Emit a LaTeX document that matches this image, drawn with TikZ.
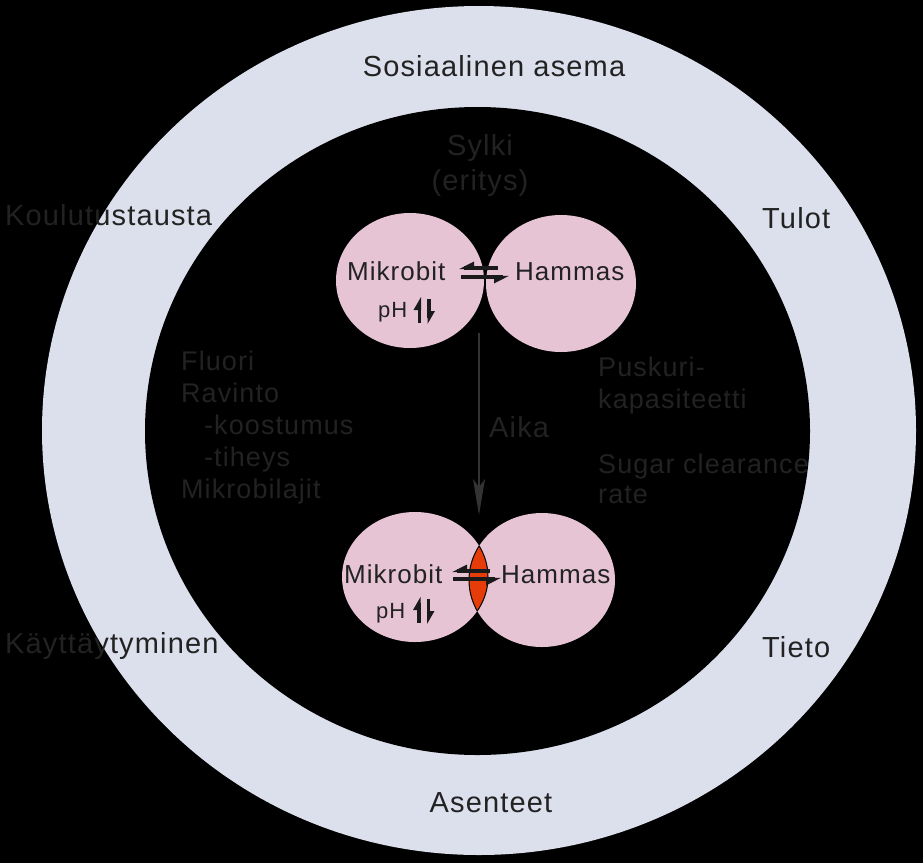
\documentclass[tikz,border=0pt]{standalone}
\usepackage{fontspec}
\setmainfont{Liberation Sans}[LetterSpace=4]
\usetikzlibrary{arrows.meta}
\definecolor{ringc}{HTML}{DCDFEC}
\definecolor{pinkc}{HTML}{E6C4D4}
\definecolor{lensc}{HTML}{E63C0A}
\definecolor{txtc}{HTML}{222222}
\definecolor{symc}{HTML}{1A1A1A}
\definecolor{arrc}{HTML}{333333}
\tikzset{
  lbl/.style={text=txtc, inner sep=0pt, font=\fontsize{29}{33}\selectfont},
  midlbl/.style={text=txtc, inner sep=0pt, font=\fontsize{27}{31}\selectfont},
  pinklbl/.style={text=txtc, inner sep=0pt, font=\fontsize{26}{30}\selectfont},
  phlbl/.style={text=txtc, inner sep=0pt, font=\fontsize{22}{26}\selectfont},
  symline/.style={draw=symc, line width=3.2pt},
  symbarb/.style={fill=symc},
}
\begin{document}
\begin{tikzpicture}[x=1pt,y=-1pt]
\useasboundingbox (0,0) rectangle (923,863);
\fill[black] (0,0) rectangle (923,863);
% rings
\fill[ringc] (479,430.5) ellipse [x radius=437pt, y radius=424.5pt];
\fill[black] (477.5,431) ellipse [x radius=332.5pt, y radius=324pt];
% top pink circles
\fill[pinkc] (410,280.5) ellipse [x radius=74pt, y radius=67.5pt];
\fill[pinkc] (561,283.5) ellipse [x radius=75pt, y radius=68.5pt];
% bottom pink circles
\fill[pinkc] (415,577) ellipse [x radius=73pt, y radius=65pt];
\fill[pinkc] (542,580) ellipse [x radius=73pt, y radius=67pt];
% red lens
\begin{scope}
  \clip (415,577) ellipse [x radius=73pt, y radius=65pt];
  \fill[lensc] (542,580) ellipse [x radius=73pt, y radius=67pt];
  \draw[black, line width=1pt] (542,580) ellipse [x radius=73pt, y radius=67pt];
\end{scope}
\begin{scope}
  \clip (542,580) ellipse [x radius=73pt, y radius=67pt];
  \draw[black, line width=1pt] (415,577) ellipse [x radius=73pt, y radius=65pt];
\end{scope}
% ring labels
\node[lbl, anchor=base] (sos) at (494,76) {Sosiaalinen asema};
\node[lbl, anchor=base west] (koul) at (5,225) {Koulutustausta};
\node[lbl, anchor=base west] (tulot) at (762,228) {Tulot};
\node[lbl, anchor=base west] (kayt) at (5,653) {Käyttäytyminen};
\node[lbl, anchor=base west] (tieto) at (762,657) {Tieto};
\node[lbl, anchor=base] (asen) at (491,812) {Asenteet};
% inner labels
\node[lbl, anchor=base] (sylki) at (480,155) {Sylki};
\node[lbl, anchor=base] (eritys) at (480,190) {(eritys)};
\node[midlbl, anchor=base west] (fluori) at (181,370) {Fluori};
\node[midlbl, anchor=base west] (ravinto) at (181,402) {Ravinto};
\node[midlbl, anchor=base west] (koost) at (204,434) {-koostumus};
\node[midlbl, anchor=base west] (tiheys) at (204,466) {-tiheys};
\node[midlbl, anchor=base west] (mlaj) at (181,498) {Mikrobilajit};
\node[midlbl, anchor=base west] (pusk) at (598,376) {Puskuri-};
\node[midlbl, anchor=base west] (kapa) at (598,408) {kapasiteetti};
\node[midlbl, anchor=base west] (sugar) at (598,473) {Sugar clearance};
\node[midlbl, anchor=base west] (rate) at (598,503) {rate};
\node[lbl, anchor=base west] (aika) at (489,437) {Aika};
% pink labels
\node[pinklbl, anchor=base west] (mik1) at (347,280) {Mikrobit};
\node[pinklbl, anchor=base west] (ham1) at (515,280) {Hammas};
\node[phlbl, anchor=base west] (ph1) at (378,317) {pH};
\node[pinklbl, anchor=base west] (mik2) at (344,583) {Mikrobit};
\node[pinklbl, anchor=base west] (ham2) at (501,583) {Hammas};
\node[phlbl, anchor=base west] (ph2) at (376,618) {pH};
% equilibrium symbols (top)
\draw[symline] (464,268) -- (498,268);
\fill[symbarb] (459,269.2) -- (474,261.5) -- (474,269.2) -- cycle;
\draw[symline] (461,277) -- (503,277);
\fill[symbarb] (509,275.8) -- (494,283.5) -- (494,275.8) -- cycle;
% pH arrows (top)
\draw[symline] (419.5,303) -- (419.5,323);
\fill[symbarb] (421,297) -- (413.5,310) -- (421,310) -- cycle;
\draw[symline] (429,299) -- (429,318);
\fill[symbarb] (427.5,324) -- (435,311) -- (427.5,311) -- cycle;
% equilibrium symbols (bottom)
\draw[symline] (457,571) -- (490,571);
\fill[symbarb] (452,572.2) -- (467,564.5) -- (467,572.2) -- cycle;
\draw[symline] (453,579) -- (495,579);
\fill[symbarb] (501,577.8) -- (486,585.5) -- (486,577.8) -- cycle;
% pH arrows (bottom)
\draw[symline] (419,603) -- (419,623);
\fill[symbarb] (420.5,597) -- (413,610) -- (420.5,610) -- cycle;
\draw[symline] (428.5,599) -- (428.5,618);
\fill[symbarb] (427,624) -- (434.5,611) -- (427,611) -- cycle;
% time arrow
\coordinate (atop) at (479,333);
\coordinate (abot) at (479,515);
\draw[arrc, line width=2.2pt, -{Stealth[length=36pt,width=12pt,inset=8pt]}] (atop) -- (abot);
\end{tikzpicture}
\end{document}
